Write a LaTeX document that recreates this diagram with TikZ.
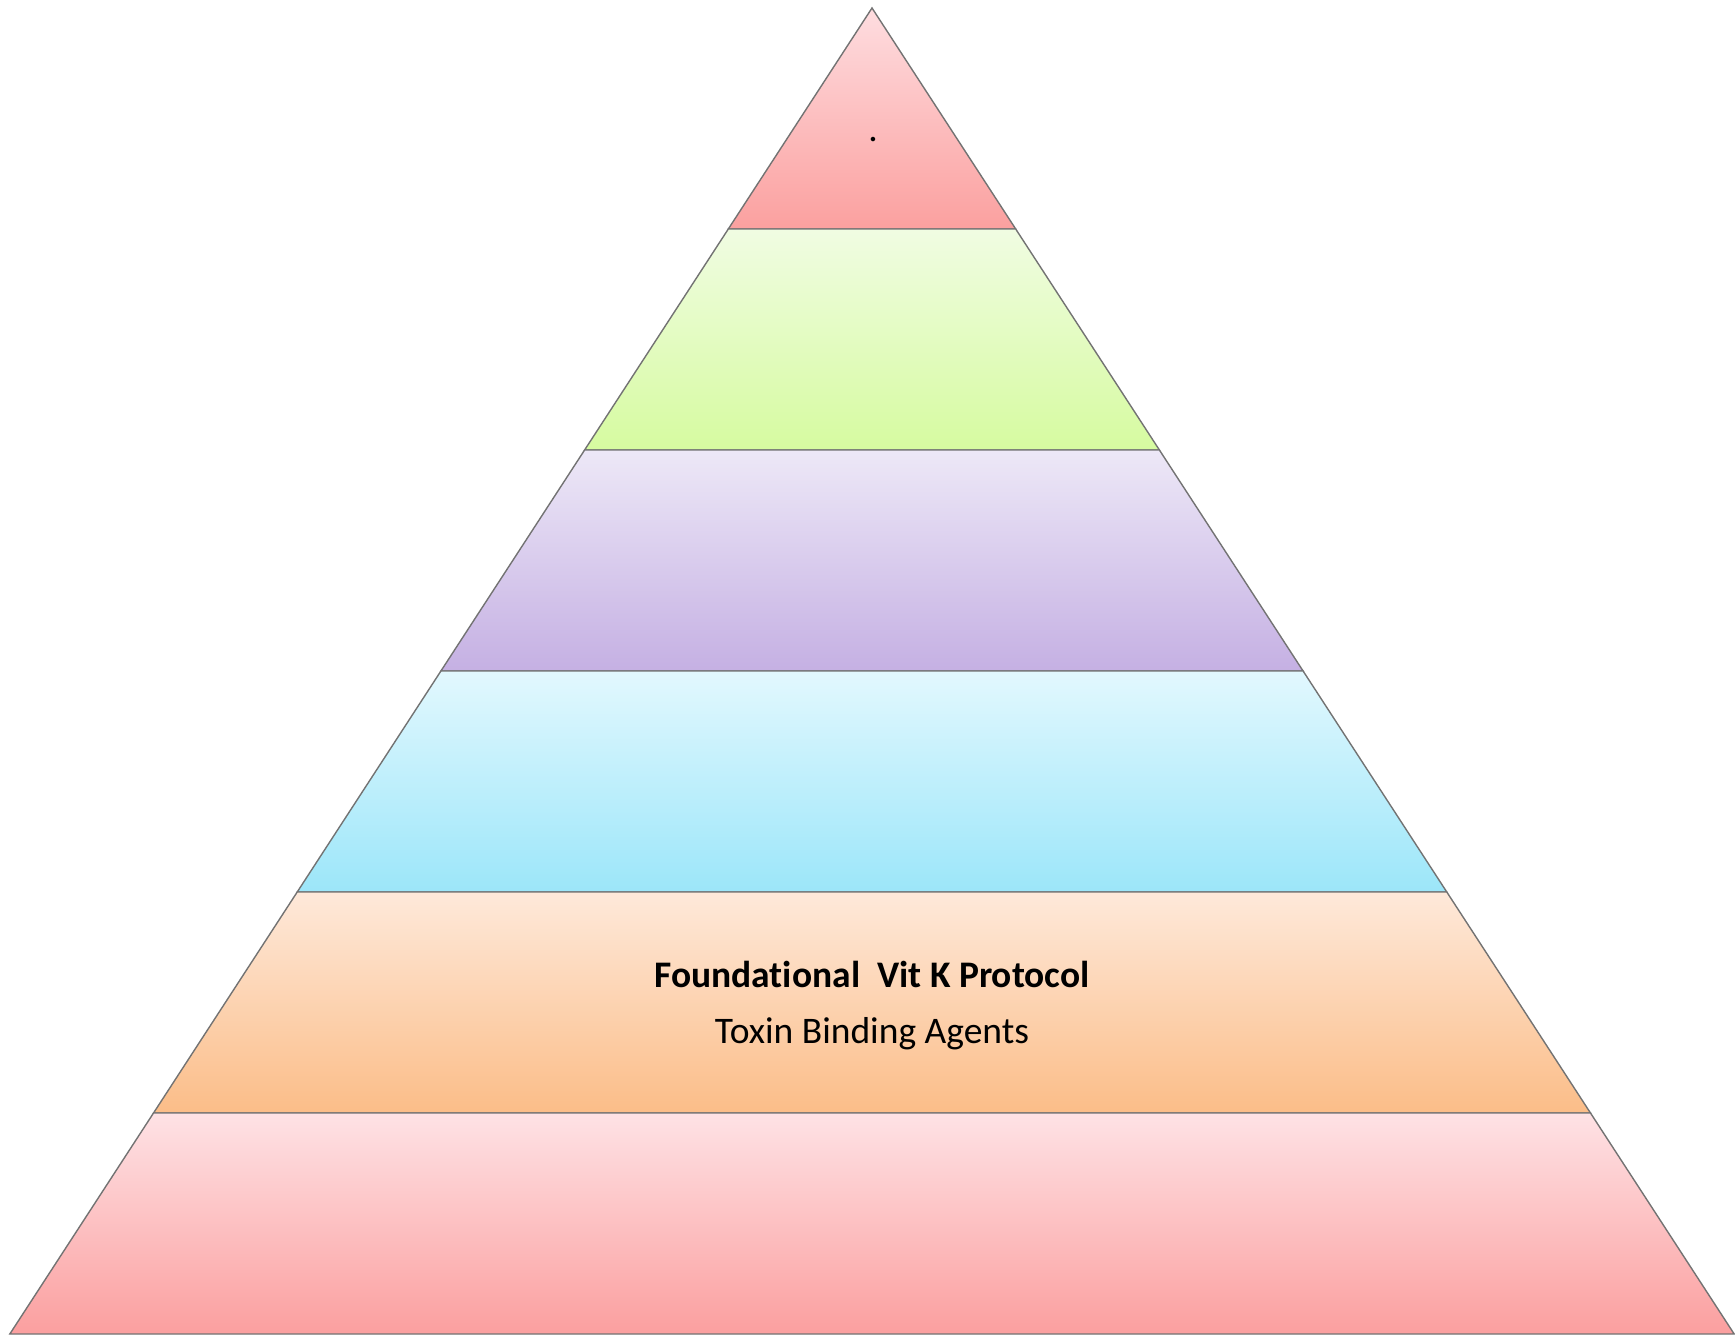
\documentclass[tikz,border=0pt]{standalone}
\usepackage{fontspec}
\setmainfont[Ligatures=NoCommon]{Carlito}
\usetikzlibrary{calc}
\usetikzlibrary{positioning}
\definecolor{redtop}{HTML}{FEDDE0}
\definecolor{redbot}{HTML}{FBA09F}
\definecolor{greentop}{HTML}{F0FCE2}
\definecolor{greenbot}{HTML}{D6FBA0}
\definecolor{purpletop}{HTML}{EDE8F7}
\definecolor{purplebot}{HTML}{C5B0E3}
\definecolor{bluetop}{HTML}{E2F8FE}
\definecolor{bluebot}{HTML}{9CE6F9}
\definecolor{orangetop}{HTML}{FEE9DA}
\definecolor{orangebot}{HTML}{FBBD88}
\definecolor{pinktop}{HTML}{FEE2E5}
\definecolor{pinkbot}{HTML}{FB9F9F}
\tikzset{
	layer/.style={
		draw=black!55, 
		line width=1.4pt, 
		line join=miter},
	layertext/.style={
		anchor=base, 
		inner sep=0pt,
		font=\fontsize{37.5}{45}\selectfont},
}

\begin{document}
\begin{tikzpicture}[x=1pt,y=-1pt]
	\useasboundingbox (0,0) rectangle (1735,1335);
	% layers, apex down to the base
	\foreach \i/\ctop/\cbot in {0/redtop/redbot, 1/greentop/greenbot,
		2/purpletop/purplebot, 3/bluetop/bluebot,
		4/orangetop/orangebot, 5/pinktop/pinkbot}{
		\pgfmathsetmacro\ya{8+221*\i}
		\pgfmathsetmacro\yb{\ya+221}
		\pgfmathsetmacro\wa{0.6502*(\ya-8)}
		\pgfmathsetmacro\wb{0.6502*(\yb-8)}
		\path[layer, top color=\ctop, bottom color=\cbot]
			({872-\wa},\ya) -- ({872+\wa},\ya) -- ({872+\wb},\yb)
			-- ({872-\wb},\yb) -- cycle;
	}
	\node[layertext] (dot) at (873,142) {.};
	\node[layertext, font=\fontsize{37.5}{45}\selectfont\bfseries] (title) at (872,987)
		{Foundational\ \ Vit K Protocol};
	\node[layertext] (agents) at (872,1043) {Toxin Binding Agents};
\end{tikzpicture}
\end{document}
